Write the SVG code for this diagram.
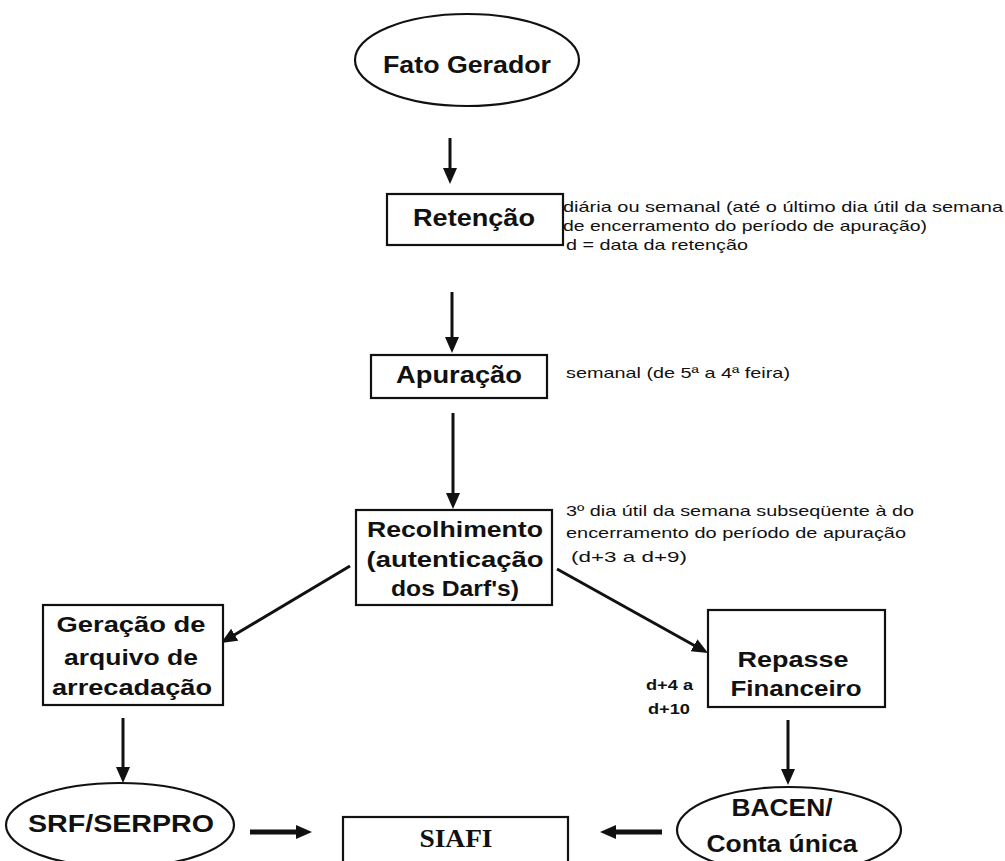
<svg xmlns="http://www.w3.org/2000/svg" width="1005" height="861" viewBox="0 0 1005 861">
<style>
.shape{fill:#fff;stroke:#111;stroke-width:2.2}
.lbl{font-family:"Liberation Sans",Arial,sans-serif;font-weight:bold;fill:#111;text-anchor:middle}
.ann{font-family:"Liberation Sans",Arial,sans-serif;font-size:15px;fill:#111}
.annb{font-family:"Liberation Sans",Arial,sans-serif;font-size:15px;font-weight:bold;fill:#111}
.conn{stroke:#111;stroke-width:3;fill:none;marker-end:url(#ah)}
.thick{stroke-width:5}
</style>
<defs>
<marker id="ah" markerUnits="userSpaceOnUse" markerWidth="18" markerHeight="16" refX="4" refY="7" orient="auto">
<path d="M0,0 L16,7 L0,14 Z" fill="#111"/>
</marker>
</defs>
<rect width="1005" height="861" fill="#fff"/>

<g id="connectors">
<line class="conn" x1="450" y1="138" x2="450" y2="172"/>
<line class="conn" x1="452" y1="292" x2="452" y2="341"/>
<line class="conn" x1="453" y1="413" x2="453" y2="497"/>
<line class="conn" x1="350" y1="566" x2="231.3" y2="636.8"/>
<line class="conn" x1="557" y1="569" x2="697.5" y2="647.2"/>
<line class="conn" x1="123" y1="718" x2="123" y2="771"/>
<line class="conn" x1="788" y1="720" x2="788" y2="773"/>
<line class="conn thick" x1="250" y1="832" x2="300" y2="832"/>
<line class="conn thick" x1="662" y1="832" x2="612" y2="832"/>
</g>

<g id="fato-gerador">
<ellipse class="shape" cx="467" cy="60" rx="112" ry="46"/>
<text class="lbl" x="467" y="73" font-size="24" textLength="168" lengthAdjust="spacingAndGlyphs">Fato Gerador</text>
</g>

<g id="retencao">
<rect class="shape" x="387" y="194" width="176" height="51"/>
<text class="lbl" x="474" y="226" font-size="23" textLength="122" lengthAdjust="spacingAndGlyphs">Retenção</text>
</g>
<g id="retencao-nota">
<text class="ann" x="563" y="212" textLength="440" lengthAdjust="spacingAndGlyphs">diária ou semanal (até o último dia útil da semana</text>
<text class="ann" x="563" y="231" textLength="364" lengthAdjust="spacingAndGlyphs">de encerramento do período de apuração)</text>
<text class="ann" x="566" y="250" textLength="182" lengthAdjust="spacingAndGlyphs">d = data da retenção</text>
</g>

<g id="apuracao">
<rect class="shape" x="371" y="355" width="176" height="43"/>
<text class="lbl" x="459" y="383" font-size="23" textLength="126" lengthAdjust="spacingAndGlyphs">Apuração</text>
</g>
<g id="apuracao-nota">
<text class="ann" x="566" y="378" textLength="224" lengthAdjust="spacingAndGlyphs">semanal (de 5ª a 4ª feira)</text>
</g>

<g id="recolhimento">
<rect class="shape" x="356" y="510" width="196" height="95"/>
<text class="lbl" x="455" y="537" font-size="22" textLength="176" lengthAdjust="spacingAndGlyphs">Recolhimento</text>
<text class="lbl" x="455" y="567" font-size="22" textLength="177" lengthAdjust="spacingAndGlyphs">(autenticação</text>
<text class="lbl" x="455" y="596" font-size="22" textLength="128" lengthAdjust="spacingAndGlyphs">dos Darf's)</text>
</g>
<g id="recolhimento-nota">
<text class="ann" x="566" y="516" textLength="348" lengthAdjust="spacingAndGlyphs">3º dia útil da semana subseqüente à do</text>
<text class="ann" x="566" y="538" textLength="340" lengthAdjust="spacingAndGlyphs">encerramento do período de apuração</text>
<text class="ann" x="571" y="562" textLength="116" lengthAdjust="spacingAndGlyphs">(d+3 a  d+9)</text>
</g>

<g id="geracao">
<rect class="shape" x="43" y="605" width="180" height="100"/>
<text class="lbl" x="131" y="632" font-size="22" textLength="149" lengthAdjust="spacingAndGlyphs">Geração de</text>
<text class="lbl" x="131" y="665" font-size="22" textLength="134" lengthAdjust="spacingAndGlyphs">arquivo de</text>
<text class="lbl" x="132" y="695" font-size="22" textLength="160" lengthAdjust="spacingAndGlyphs">arrecadação</text>
</g>

<g id="repasse">
<rect class="shape" x="708" y="610" width="177" height="97"/>
<text class="lbl" x="793" y="667" font-size="22" textLength="111" lengthAdjust="spacingAndGlyphs">Repasse</text>
<text class="lbl" x="796" y="696" font-size="22" textLength="131" lengthAdjust="spacingAndGlyphs">Financeiro</text>
</g>
<g id="repasse-nota">
<text class="annb" x="646" y="690" textLength="47" lengthAdjust="spacingAndGlyphs">d+4 a</text>
<text class="annb" x="648" y="714" textLength="42" lengthAdjust="spacingAndGlyphs">d+10</text>
</g>

<g id="srf-serpro">
<ellipse class="shape" cx="120" cy="825" rx="114" ry="42"/>
<text class="lbl" x="121" y="832" font-size="23" textLength="186" lengthAdjust="spacingAndGlyphs">SRF/SERPRO</text>
</g>

<g id="siafi">
<rect class="shape" x="343" y="817" width="225" height="60"/>
<text x="456" y="847" font-family="'Liberation Serif','Times New Roman',serif" font-weight="bold" font-size="25" fill="#111" text-anchor="middle" textLength="73" lengthAdjust="spacingAndGlyphs">SIAFI</text>
</g>

<g id="bacen">
<ellipse class="shape" cx="789" cy="830" rx="112" ry="43"/>
<text class="lbl" x="782" y="816" font-size="23" textLength="101" lengthAdjust="spacingAndGlyphs">BACEN/</text>
<text class="lbl" x="782" y="852" font-size="23" textLength="151" lengthAdjust="spacingAndGlyphs">Conta única</text>
</g>
</svg>
